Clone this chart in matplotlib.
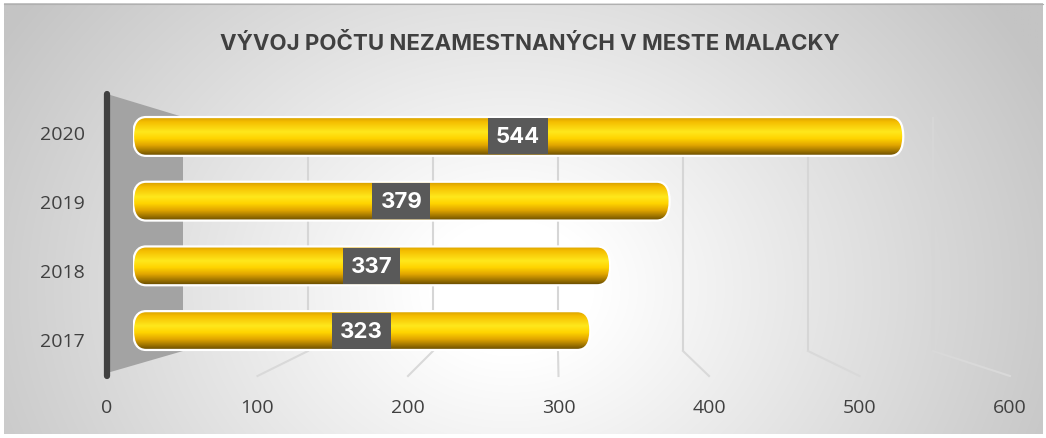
import numpy as np
import matplotlib
matplotlib.use("Agg")
import matplotlib.pyplot as plt
from matplotlib.colors import LinearSegmentedColormap
from matplotlib.patches import FancyBboxPatch, Polygon

# ---------------- data ----------------
years = ["2017", "2018", "2019", "2020"]
values = [323, 337, 379, 544]
x_ticks = [0, 100, 200, 300, 400, 500, 600]
title = "VÝVOJ POČTU NEZAMESTNANÝCH V MESTE MALACKY"

# ---------------- layout (pixels) ----------------
W, H = 1046, 439
FRONT_X0, FRONT_S = 107, 1.505     # front (label) scale
BACK_X0, BACK_S = 183, 1.25        # back wall scale
BAR_X0, BAR_S = 133, 1.416         # bar depth scale
BACK_TOP, BACK_BOT, FRONT_Y = 118, 352, 377
WALL_TOP = 95
XMAX = 600
TXT = "#404040"
BOLD_FONT = ['Inter', 'DejaVu Sans']

plt.rcParams['font.family'] = ['Open Sans', 'DejaVu Sans']

fig = plt.figure(figsize=(W / 100, H / 100), dpi=100)

# background overlay in pixel coordinates
bg = fig.add_axes([0, 0, 1, 1])
bg.set_xlim(0, W)
bg.set_ylim(H, 0)
bg.axis("off")

# radial gradient chart area
yy, xx = np.mgrid[0:H, 0:W]
d = np.sqrt(((xx - 510) / 600.0) ** 2 + ((yy - 290) / 500.0) ** 2)
t = np.clip((d - 0.14) / 0.86, 0, 1)
g = (255 - (255 - 196) * t) / 255.0
img = np.dstack([g, g, g])
bg.imshow(img, extent=(4, 1043, 435, 4), aspect="auto", zorder=0, interpolation="bilinear")
bg.plot([4, 1043], [4.5, 4.5], color="#b0b0b0", lw=0.8, zorder=1)


def front_px(v):
    return FRONT_X0 + v * FRONT_S


def back_px(v):
    return BACK_X0 + v * BACK_S


# back wall gridlines + floor lines
for v in x_ticks[1:]:
    bg.plot([back_px(v), back_px(v)], [BACK_TOP, BACK_BOT], color="#d6d6d6", lw=1.5, zorder=2,
            solid_capstyle="butt")
    bg.plot([back_px(v), front_px(v)], [BACK_BOT, FRONT_Y], color="#d9d9d9", lw=1.5, zorder=2)

# side wall
wall = Polygon([(front_px(0), WALL_TOP), (back_px(0), BACK_TOP), (back_px(0), BACK_BOT),
                (front_px(0), FRONT_Y - 3)], closed=True, facecolor="#a3a3a3", edgecolor="none", zorder=3)
bg.add_patch(wall)
bg.plot([front_px(0), front_px(0)], [WALL_TOP, FRONT_Y], color="#404040", lw=4.5,
        solid_capstyle="round", zorder=4)

# title
bg.text(530, 43, title, ha="center", va="center", fontsize=16, fontweight="bold", color=TXT,
        zorder=5, family=BOLD_FONT)

# front axis tick labels
front_ax = fig.add_axes([front_px(0) / W, (H - FRONT_Y) / H, XMAX * FRONT_S / W, 0.001])
front_ax.set_xlim(0, XMAX)
front_ax.patch.set_visible(False)
for s in front_ax.spines.values():
    s.set_visible(False)
front_ax.set_yticks([])
front_ax.set_xticks(x_ticks, labels=[str(v) for v in x_ticks])
front_ax.tick_params(axis="x", length=0, pad=16, labelsize=14, labelcolor=TXT)

# category labels on the front plane
lab_row = 69.0
lab_center = 236.5
lab_ax = fig.add_axes([front_px(0) / W, (H - lab_center - 2 * lab_row) / H, 0.001, 4 * lab_row / H])
lab_ax.set_ylim(-0.5, 3.5)
lab_ax.patch.set_visible(False)
for s in lab_ax.spines.values():
    s.set_visible(False)
lab_ax.set_xticks([])
lab_ax.set_yticks(range(len(years)), labels=years)
lab_ax.tick_params(axis="y", length=0, pad=16, labelsize=14, labelcolor=TXT)

# bars axes
row_px = 64.7
center_px = 234.5
ax_top = center_px - 2 * row_px
ax_h = 4 * row_px
ax = fig.add_axes([BAR_X0 / W, (H - ax_top - ax_h) / H, XMAX * BAR_S / W, ax_h / H])
ax.set_xlim(0, XMAX)
ax.set_ylim(-0.5, 3.5)
ax.patch.set_visible(False)
ax.axis("off")

bar_h = 0.60
bars = ax.barh(range(len(years)), values, height=bar_h, visible=False)

cyl = LinearSegmentedColormap.from_list("cyl", [
    (0.00, "#d49e00"),
    (0.12, "#f5bd00"),
    (0.38, "#ffe81c"),
    (0.55, "#ffd400"),
    (0.72, "#e2a600"),
    (0.88, "#9c7200"),
    (1.00, "#624700"),
])
grad = np.linspace(0, 1, 256).reshape(-1, 1)

rx_px, ry_px = 13.0, bar_h * row_px / 2
rx = rx_px / BAR_S
aspect = (ry_px / row_px) / rx

for rect in bars:
    x0, y0 = rect.get_x(), rect.get_y()
    w, h = rect.get_width(), rect.get_height()
    shape = FancyBboxPatch((x0, y0), w, h,
                           boxstyle=f"round,pad=0,rounding_size={rx}",
                           mutation_aspect=aspect, facecolor="none", edgecolor="white",
                           lw=1.6, zorder=4, transform=ax.transData)
    ax.add_patch(shape)
    im = ax.imshow(grad, extent=(x0, x0 + w, y0, y0 + h), origin="upper", cmap=cyl,
                   aspect="auto", zorder=3, interpolation="bilinear")
    im.set_clip_path(shape)

for i, v in enumerate(values):
    ax.text(v / 2, i, str(v), ha="center", va="center", fontsize=16, fontweight="bold",
            color="white", zorder=6, family=BOLD_FONT,
            bbox=dict(boxstyle="square,pad=0.36", facecolor="#595959", edgecolor="none"))

ax.set_xlim(0, XMAX)
ax.set_ylim(-0.5, 3.5)

fig.savefig("out.png", dpi=100)
